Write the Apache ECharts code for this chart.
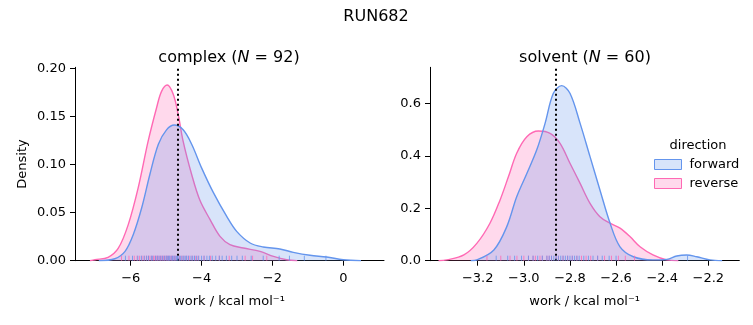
<!DOCTYPE html>
<html><head><meta charset="utf-8">
<script src="https://cdn.jsdelivr.net/npm/echarts@6/dist/echarts.min.js"></script>
<style>html,body{margin:0;padding:0;background:#fff}#c{width:753px;height:325px}</style>
</head><body><div id="c"></div><script>
// ---- data ----
const mainTitle = 'RUN682';
const panelNames = ['complex', 'solvent'];
const panelN = [92, 60];
const legendNames = ['forward', 'reverse'];
const xTicksComplex = [-6, -4, -2, 0];
const xTicksSolvent = [-3.2, -3.0, -2.8, -2.6, -2.4, -2.2];
const yTicksComplex = [0, 0.05, 0.10, 0.15, 0.20];
const yTicksSolvent = [0, 0.2, 0.4, 0.6];
const meanComplex = -4.67;
const meanSolvent = -2.857;

const complexForwardKde = [[-6.9,0],[-6.45,0.002],[-6.16,0.0097],[-5.93,0.027],[-5.69,0.055],[-5.46,0.0896],[-5.22,0.121],[-4.99,0.136],[-4.77,0.141],[-4.52,0.136],[-4.28,0.121],[-4.0,0.0965],[-3.67,0.071],[-3.29,0.046],[-3.01,0.0305],[-2.63,0.0184],[-2.26,0.0143],[-1.79,0.0122],[-1.41,0.0087],[-0.94,0.0056],[-0.47,0.0038],[0,0.001],[0.5,0]];
const complexReverseKde = [[-7.15,0],[-7.01,0.001],[-6.64,0.0035],[-6.35,0.013],[-6.07,0.0375],[-5.79,0.0757],[-5.51,0.124],[-5.27,0.159],[-5.13,0.176],[-4.97,0.1826],[-4.80,0.173],[-4.66,0.152],[-4.52,0.124],[-4.28,0.0896],[-4.05,0.063],[-3.76,0.0427],[-3.48,0.0253],[-3.20,0.0167],[-2.82,0.0132],[-2.35,0.0097],[-1.97,0.0045],[-1.60,0.001],[-1.3,0]];
const solventForwardKde = [[-3.23,0],[-3.204,0.003],[-3.13,0.041],[-3.074,0.13],[-3.031,0.244],[-2.987,0.333],[-2.944,0.423],[-2.908,0.524],[-2.872,0.639],[-2.836,0.668],[-2.80,0.639],[-2.756,0.524],[-2.713,0.397],[-2.67,0.27],[-2.626,0.143],[-2.583,0.053],[-2.525,0.015],[-2.44,0.003],[-2.38,0.005],[-2.337,0.018],[-2.294,0.022],[-2.25,0.015],[-2.193,0.003],[-2.14,0]];
const solventReverseKde = [[-3.37,0],[-3.334,0.003],[-3.26,0.022],[-3.204,0.066],[-3.147,0.143],[-3.103,0.232],[-3.067,0.32],[-3.031,0.41],[-2.987,0.473],[-2.937,0.495],[-2.886,0.486],[-2.843,0.448],[-2.80,0.372],[-2.756,0.295],[-2.713,0.219],[-2.67,0.168],[-2.626,0.143],[-2.583,0.124],[-2.54,0.092],[-2.496,0.053],[-2.44,0.022],[-2.38,0.003],[-2.33,0]];

const complexForwardRug = [-6.15,-5.95,-5.8,-5.7,-5.62,-5.55,-5.5,-5.42,-5.38,-5.3,-5.25,-5.2,-5.15,-5.1,-5.05,-5.0,-4.97,-4.93,-4.9,-4.86,-4.82,-4.78,-4.75,-4.71,-4.68,-4.64,-4.6,-4.55,-4.5,-4.46,-4.42,-4.37,-4.3,-4.25,-4.2,-4.14,-4.08,-4.0,-3.93,-3.85,-3.78,-3.7,-3.6,-3.5,-3.42,-3.3,-3.15,-3.0,-2.85,-2.6,-2.26,-1.81,-1.52,-1.10,-0.49];
const complexReverseRug = [-6.26,-6.05,-5.9,-5.82,-5.75,-5.68,-5.62,-5.56,-5.5,-5.46,-5.41,-5.36,-5.32,-5.28,-5.24,-5.2,-5.16,-5.12,-5.08,-5.04,-5.0,-4.97,-4.93,-4.89,-4.85,-4.81,-4.77,-4.73,-4.68,-4.62,-4.56,-4.5,-4.42,-4.35,-4.27,-4.18,-4.1,-3.93,-3.75,-3.5,-3.22,-2.77,-2.56,-2.16];
const solventForwardRug = [-3.12,-3.07,-3.04,-3.01,-2.98,-2.96,-2.94,-2.92,-2.9,-2.89,-2.88,-2.87,-2.86,-2.85,-2.84,-2.83,-2.82,-2.81,-2.8,-2.79,-2.78,-2.77,-2.76,-2.74,-2.72,-2.7,-2.68,-2.66,-2.63,-2.6,-2.29];
const solventReverseRug = [-3.16,-3.1,-3.06,-3.03,-3.0,-2.98,-2.96,-2.95,-2.93,-2.92,-2.9,-2.89,-2.88,-2.86,-2.85,-2.83,-2.81,-2.79,-2.77,-2.75,-2.73,-2.71,-2.68,-2.65,-2.62,-2.59,-2.56,-2.52];

// ---- styling ----
const FONT = 'DejaVu Sans';
const BLUE = '#6495ED', PINK = '#FF69B4';
const BLUE_FILL = 'rgba(100,149,237,0.25)', PINK_FILL = 'rgba(255,105,180,0.25)';
const minus = s => String(s).replace('-', '\u2212');

function xAxisCfg(idx, min, max, ticks, dec) {
  return {
    type: 'value', gridIndex: idx, min: min, max: max,
    name: 'work / kcal mol\u207B\u00B9', nameLocation: 'middle', nameGap: 34,
    nameTextStyle: { fontFamily: FONT, fontSize: 13, color: '#000' },
    axisLine: { show: true, onZero: false, lineStyle: { color: '#000', width: 1 } },
    axisTick: { show: true, length: 5, lineStyle: { color: '#000', width: 1 }, customValues: ticks },
    axisLabel: { margin: 11, fontFamily: FONT, fontSize: 13, color: '#000', customValues: ticks,
      formatter: v => minus(v.toFixed(dec)) },
    splitLine: { show: false }
  };
}
function yAxisCfg(idx, max, ticks, dec, name) {
  return {
    type: 'value', gridIndex: idx, min: 0, max: max,
    name: name, nameLocation: 'middle', nameGap: 46,
    nameTextStyle: { fontFamily: FONT, fontSize: 13, color: '#000' },
    axisLine: { show: true, onZero: false, lineStyle: { color: '#000', width: 1 } },
    axisTick: { show: true, length: 5, lineStyle: { color: '#000', width: 1 }, customValues: ticks },
    axisLabel: { margin: 9, fontFamily: FONT, fontSize: 13, color: '#000', customValues: ticks,
      formatter: v => v.toFixed(dec) },
    splitLine: { show: false }
  };
}
function kde(name, data, idx, color, fill, z) {
  return {
    type: 'line', name: name, xAxisIndex: idx, yAxisIndex: idx, data: data,
    smooth: 0.35, showSymbol: false, symbol: 'none', z: z, silent: true,
    lineStyle: { color: color, width: 1.4 }, itemStyle: { color: color },
    areaStyle: { color: fill, opacity: 1 }
  };
}
function rug(name, vals, idx, color, z) {
  return {
    type: 'custom', name: name, xAxisIndex: idx, yAxisIndex: idx, z: z, silent: true,
    data: vals.map(v => [v, 0]),
    encode: { x: 0, y: 1 },
    renderItem: function (params, api) {
      const p = api.coord([api.value(0), 0]);
      return { type: 'line', shape: { x1: p[0], y1: p[1], x2: p[0], y2: p[1] - 5 },
        style: { stroke: color, lineWidth: 1, opacity: 0.8 } };
    }
  };
}
function meanLine(idx, x) {
  return {
    type: 'line', name: 'mean' + idx, xAxisIndex: idx, yAxisIndex: idx, data: [], z: 10,
    markLine: { silent: true, symbol: ['none', 'none'], label: { show: false },
      lineStyle: { color: '#000', type: [2, 3], width: 2 }, data: [{ xAxis: x }] }
  };
}

const titleRich = { i: { fontFamily: FONT, fontSize: 16, fontStyle: 'italic', color: '#000' } };
const option = {
  animation: false,
  title: [
    { text: mainTitle, left: 371, top: 4, textAlign: 'center',
      textStyle: { fontFamily: FONT, fontSize: 16, fontWeight: 'normal', color: '#000' } },
    { text: panelNames[0] + ' ({i|N} = ' + panelN[0] + ')', left: 224, top: 45, textAlign: 'center',
      textStyle: { fontFamily: FONT, fontSize: 16, fontWeight: 'normal', color: '#000', rich: titleRich } },
    { text: panelNames[1] + ' ({i|N} = ' + panelN[1] + ')', left: 580, top: 45, textAlign: 'center',
      textStyle: { fontFamily: FONT, fontSize: 16, fontWeight: 'normal', color: '#000', rich: titleRich } },
    { text: 'direction', left: 693, top: 134, textAlign: 'center',
      textStyle: { fontFamily: FONT, fontSize: 13, fontWeight: 'normal', color: '#000' } }
  ],
  legend: {
    orient: 'vertical', left: 649, top: 153, itemWidth: 27, itemHeight: 10, itemGap: 6,
    selectedMode: false,
    textStyle: { fontFamily: FONT, fontSize: 13, color: '#000', padding: [0, 0, 0, 3] },
    data: [
      { name: legendNames[0], icon: 'rect', itemStyle: { color: BLUE_FILL, borderColor: BLUE, borderWidth: 1 } },
      { name: legendNames[1], icon: 'rect', itemStyle: { color: PINK_FILL, borderColor: PINK, borderWidth: 1 } }
    ]
  },
  grid: [
    { left: 75, top: 67.3, width: 309, height: 193.4 },
    { left: 430, top: 67.3, width: 309.3, height: 193.4 }
  ],
  xAxis: [ xAxisCfg(0, -7.573, 1.149, xTicksComplex, 0), xAxisCfg(1, -3.407, -2.0656, xTicksSolvent, 1) ],
  yAxis: [ yAxisCfg(0, 0.201, yTicksComplex, 2, 'Density'), yAxisCfg(1, 0.738, yTicksSolvent, 1, '') ],
  series: [
    kde(legendNames[1], complexReverseKde, 0, PINK, PINK_FILL, 2),
    kde(legendNames[0], complexForwardKde, 0, BLUE, BLUE_FILL, 3),
    kde(legendNames[1], solventReverseKde, 1, PINK, PINK_FILL, 2),
    kde(legendNames[0], solventForwardKde, 1, BLUE, BLUE_FILL, 3),
    rug('rugR0', complexReverseRug, 0, PINK, 4),
    rug('rugF0', complexForwardRug, 0, BLUE, 5),
    rug('rugR1', solventReverseRug, 1, PINK, 4),
    rug('rugF1', solventForwardRug, 1, BLUE, 5),
    meanLine(0, meanComplex),
    meanLine(1, meanSolvent)
  ]
};
echarts.init(document.getElementById('c'), null, { renderer: 'canvas' }).setOption(option);
</script></body></html>
